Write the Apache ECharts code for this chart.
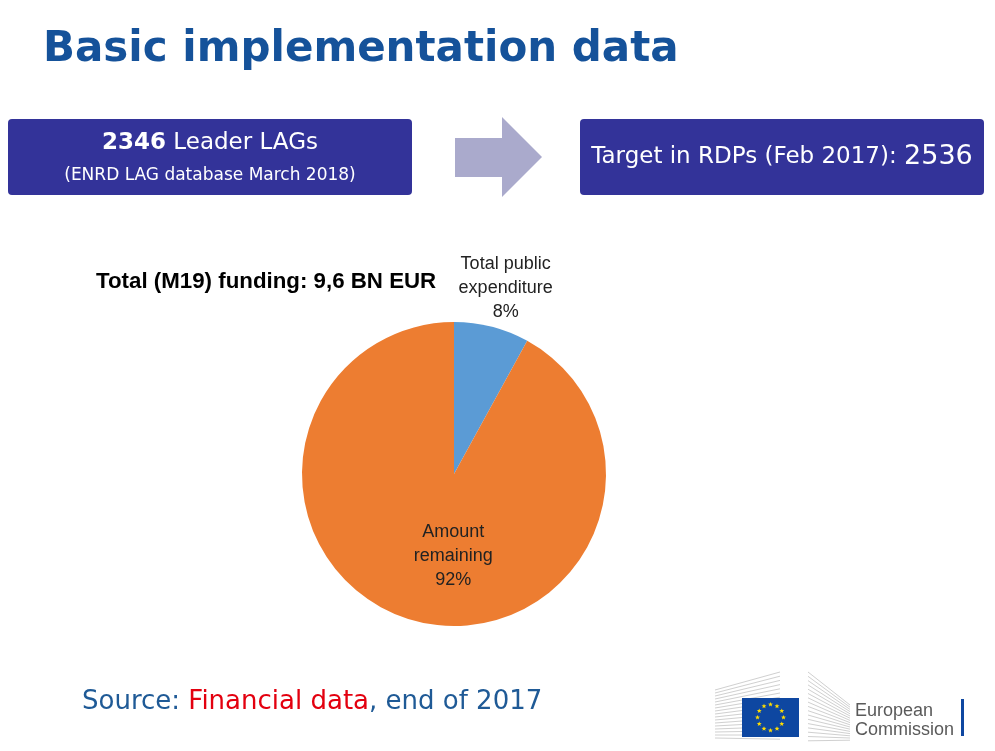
<!DOCTYPE html>
<html>
<head>
<meta charset="utf-8">
<script src="https://cdn.jsdelivr.net/npm/echarts@6/dist/echarts.min.js"></script>
<style>
html,body{margin:0;padding:0;background:#fff;}
#main{width:995px;height:751px;}
</style>
</head>
<body>
<div id="main"></div>
<script>
// ---- data ----
var categories = ['Total public\nexpenditure', 'Amount\nremaining'];
var values = [8, 92];
var sliceColors = ['#5B9BD5', '#ED7D31'];
var titleText = 'Basic implementation data';
var lagCount = '2346';
var lagTarget = '2536';
var fundingText = 'Total (M19) funding: 9,6 BN EUR';

var chart = echarts.init(document.getElementById('main'));

function starPoints(cx, cy, R, r) {
  var pts = [];
  for (var i = 0; i < 10; i++) {
    var a = -Math.PI / 2 + i * Math.PI / 5;
    var rr = i % 2 === 0 ? R : r;
    pts.push([cx + rr * Math.cos(a), cy + rr * Math.sin(a)]);
  }
  return pts;
}

var graphics = [];
// title
graphics.push({type:'text', x:43, y:50, style:{text:titleText, fill:'#15529A', font:'bold 42px "DejaVu Sans"', textAlign:'left', textVerticalAlign:'middle'}});
// left box
graphics.push({type:'rect', shape:{x:8, y:119, width:404, height:76, r:4}, style:{fill:'#333399'}});
graphics.push({type:'text', x:210, y:143, style:{text:'{b|' + lagCount + '}{n| Leader LAGs}', textAlign:'center', textVerticalAlign:'middle', fill:'#fff',
  rich:{b:{font:'bold 23px "DejaVu Sans"', fill:'#fff'}, n:{font:'23px "DejaVu Sans"', fill:'#fff'}}}});
graphics.push({type:'text', x:210, y:176, style:{text:'(ENRD LAG database March 2018)', textAlign:'center', textVerticalAlign:'middle', fill:'#fff', font:'17px "DejaVu Sans"'}});
// arrow
graphics.push({type:'polygon', shape:{points:[[455,138],[502,138],[502,117],[542,157],[502,197],[502,177],[455,177]]}, style:{fill:'#AAAACC'}});
// right box
graphics.push({type:'rect', shape:{x:580, y:119, width:404, height:76, r:4}, style:{fill:'#333399'}});
graphics.push({type:'text', x:782, y:157, style:{text:'{n|Target in RDPs (Feb 2017): }{b|' + lagTarget + '}', textAlign:'center', textVerticalAlign:'middle', fill:'#fff',
  rich:{b:{font:'27px "DejaVu Sans"', fill:'#fff'}, n:{font:'23px "DejaVu Sans"', fill:'#fff'}}}});
// funding text
graphics.push({type:'text', x:96, y:282, style:{text:fundingText, fill:'#000', font:'bold 22.3px "Liberation Sans"', textAlign:'left', textVerticalAlign:'middle'}});
// source line
graphics.push({type:'text', x:82, y:702, style:{text:'{a|Source: }{r|Financial data}{a|, end of 2017}', textAlign:'left', textVerticalAlign:'middle',
  rich:{a:{font:'26px "DejaVu Sans"', fill:'#1F5A96'}, r:{font:'26px "DejaVu Sans"', fill:'#E3000F'}}}});
// logo: building lines
for (var i = 0; i < 17; i++) {
  graphics.push({type:'line', shape:{x1:715, y1:690 + i * 3, x2:780, y2:672 + i * 4.2}, style:{stroke:'#d0d0d0', lineWidth:1}});
  graphics.push({type:'line', shape:{x1:808, y1:672 + i * 4.3, x2:850, y2:705 + i * 2.2}, style:{stroke:'#d0d0d0', lineWidth:1}});
}
graphics.push({type:'rect', shape:{x:742, y:698, width:57, height:39}, style:{fill:'#0E47A1'}});
for (var k = 0; k < 12; k++) {
  var ang = k * Math.PI / 6;
  graphics.push({type:'polygon', shape:{points:starPoints(770.5 + 13 * Math.cos(ang), 717.5 + 13 * Math.sin(ang), 2.6, 1.1)}, style:{fill:'#FFDD00'}});
}
graphics.push({type:'text', x:855, y:711, style:{text:'European', fill:'#5a5a5a', font:'18px "Liberation Sans"', textAlign:'left', textVerticalAlign:'middle'}});
graphics.push({type:'text', x:855, y:730, style:{text:'Commission', fill:'#5a5a5a', font:'18px "Liberation Sans"', textAlign:'left', textVerticalAlign:'middle'}});
graphics.push({type:'rect', shape:{x:961, y:699, width:3, height:37}, style:{fill:'#0E47A1'}});

var labelOffsets = [[32, -109], [19, 6]];

chart.setOption({
  backgroundColor: '#fff',
  animation: false,
  graphic: {elements: graphics},
  series: [{
    type: 'pie',
    center: [454, 474],
    radius: 152,
    startAngle: 90,
    clockwise: true,
    data: categories.map(function (c, i) {
      return {name: c, value: values[i], itemStyle: {color: sliceColors[i]}};
    }),
    label: {
      show: true,
      position: 'inside',
      formatter: '{b}\n{d}%',
      color: '#222',
      fontFamily: 'Liberation Sans',
      fontSize: 18,
      lineHeight: 24
    },
    labelLine: {show: false},
    labelLayout: function (params) {
      var o = labelOffsets[params.dataIndex];
      return {dx: o[0], dy: o[1]};
    },
    emphasis: {disabled: true}
  }]
});
</script>
</body>
</html>
